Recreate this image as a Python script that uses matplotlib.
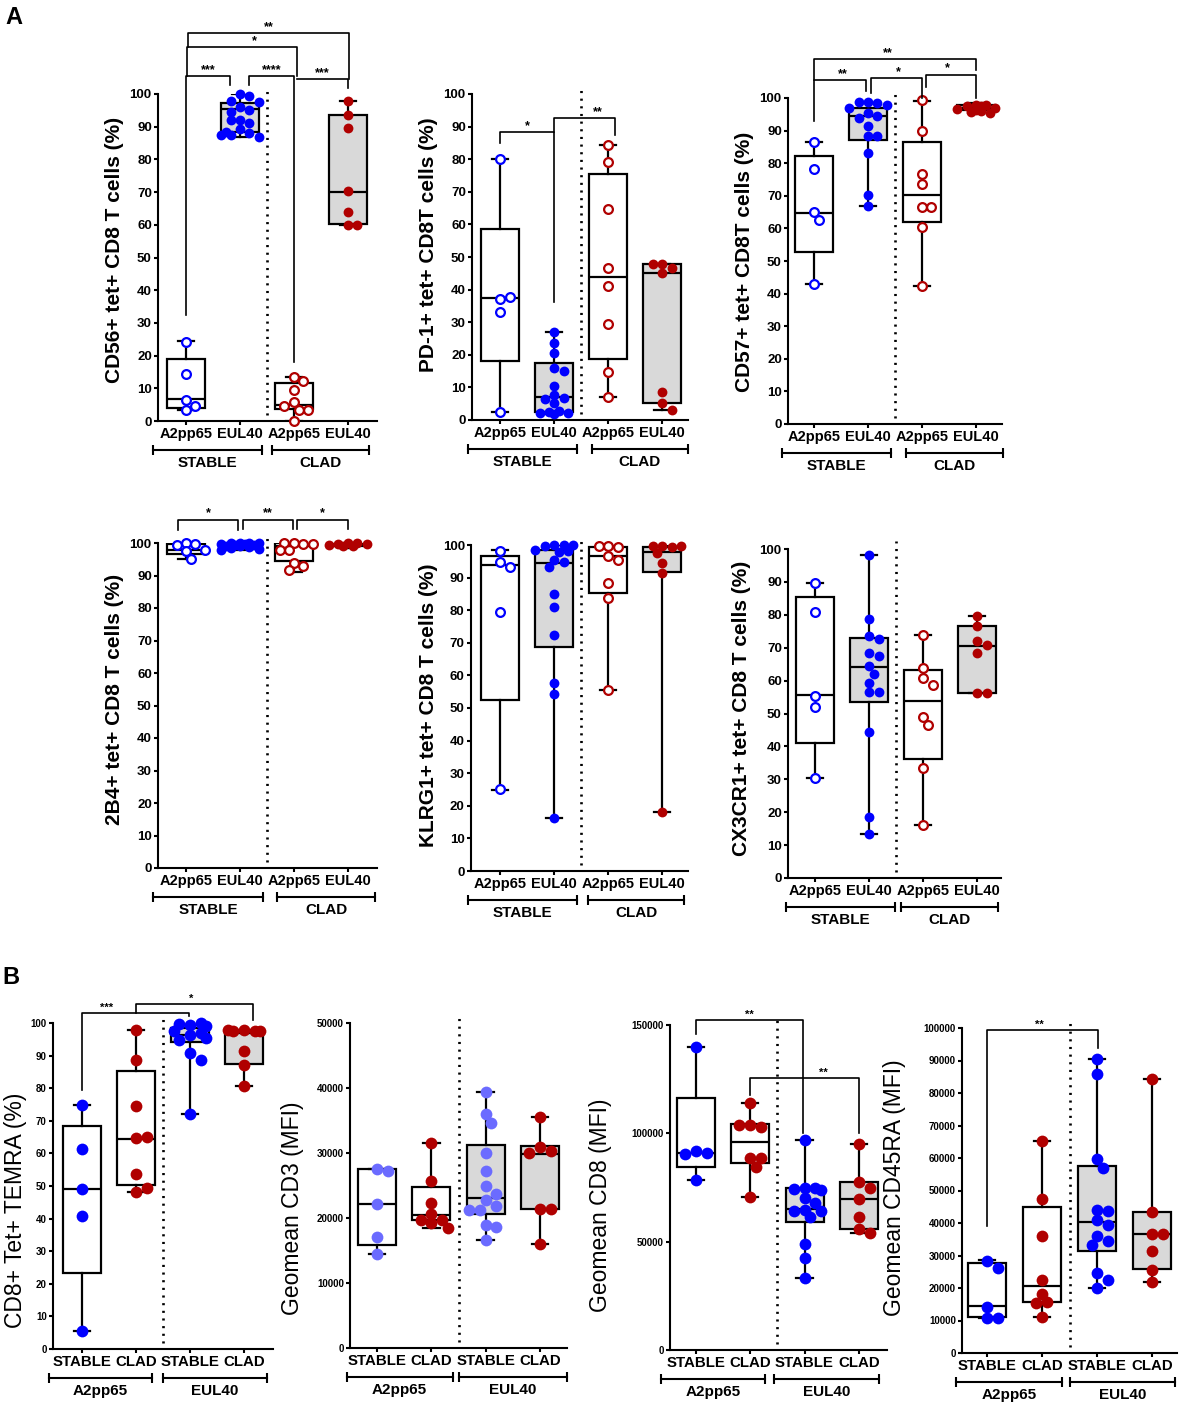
import matplotlib
matplotlib.use('Agg')
import matplotlib.pyplot as plt
import matplotlib.transforms as mtransforms
import numpy as np

plt.rcParams['font.family'] = ['Liberation Sans', 'DejaVu Sans']

W, H = 1181, 1402

BLUE = '#0000ff'
LBLUE = '#6b6bff'
RED = '#b00000'
GREY = '#d9d9d9'

cats_a = ['A2pp65', 'EUL40', 'A2pp65', 'EUL40']
groups_a = ['STABLE', 'CLAD']
cats_b = ['STABLE', 'CLAD', 'STABLE', 'CLAD']
groups_b = ['A2pp65', 'EUL40']

# box stats per group: whisker low, q1, median, q3, whisker high
cd56_box = [[3.3, 4.1, 6.8, 19.1, 24.5], [87, 88.5, 95.5, 97.3, 100],
            [0, 3.6, 5, 11.6, 13.5], [60, 60.3, 70, 93.5, 98]]
cd56_pts = [[24.3, 14.3, 6.5, 3.3, 4.6],
            [100, 99.5, 98, 97.6, 96, 95, 94.6, 92.2, 91.2, 92, 89.2, 88.2, 87.5, 87, 87.5, 88.5],
            [13.5, 12.1, 9.4, 5.8, 3.3, 4.5, 3.3, 0],
            [98, 93.6, 89.5, 70.3, 64, 60, 60]]

pd1_box = [[2.6, 18.2, 37.3, 58.6, 80], [1.7, 2.5, 7, 17.4, 27.1],
           [7.2, 18.6, 44, 75.5, 84.4], [3.1, 5.2, 45.2, 47.8, 47.8]]
pd1_pts = [[80, 37.1, 37.6, 33, 2.6],
           [27.1, 23.5, 20.7, 16.1, 15, 10.4, 7.7, 6.6, 6.3, 5.1, 2.8, 2.6, 2.2, 2.2, 1.7],
           [84.4, 79, 64.6, 46.5, 41.1, 29.4, 14.6, 7.2],
           [47.8, 45, 46.7, 47.8, 8.5, 5.1, 3.1]]

cd57_box = [[42.9, 52.7, 64.7, 82.3, 86.5], [66.9, 87.2, 94.6, 96.9, 98.5],
            [42.2, 62.1, 70.3, 86.4, 99], [95.5, 96.2, 97, 98, 98.5]]
cd57_pts = [[86.4, 78.3, 64.9, 62.6, 42.9],
            [98.7, 98.5, 98.9, 97.7, 97, 95.5, 94.4, 93.9, 91.5, 88.2, 88.2, 83.1, 70.3, 66.9],
            [99.5, 90, 76.7, 73.6, 66.7, 66.7, 60.3, 42.2],
            [98, 97.8, 97.5, 97, 96.5, 96, 95.8, 95.5, 96.3, 97.6]]

b24_box = [[95, 96.7, 98, 99.8, 100], [97.8, 98.6, 99.5, 100, 100],
           [91, 94.5, 99, 100, 100], [98.5, 99, 99.7, 100, 100]]
b24_pts = [[100, 99.8, 99.5, 97.9, 97.4, 95],
           [100, 100, 100, 100, 99.8, 99.6, 99.5, 99.4, 99.2, 99, 98.8, 98.5, 98.2, 97.8],
           [100, 99.6, 100, 99.8, 97.7, 97.7, 93.9, 92.8, 91.6],
           [100, 99.9, 99.8, 99.6, 99.4, 99.2, 99]]

klrg_box = [[25, 52.4, 93.8, 96.5, 98.5], [16.4, 68.8, 94.5, 98.6, 100],
            [55.5, 85.2, 96.6, 99.5, 100], [18.1, 91.8, 97.7, 99.4, 100]]
klrg_pts = [[98.3, 94.9, 93.3, 79.5, 25.1],
            [100, 100, 99.8, 100, 98.5, 98, 98.3, 95.5, 94.7, 93.1, 84.9, 80.9, 72.4, 57.7, 54.2, 16.4],
            [99.8, 99.5, 99.8, 96.5, 95.4, 88.2, 83.6, 55.5],
            [99.8, 99.5, 99.8, 99.8, 97.4, 94.6, 91.5, 18.1]]

cx3_box = [[30.3, 40.9, 55.6, 85.4, 89.6], [13.3, 53.6, 64.1, 72.9, 98.3],
           [16, 36.3, 53.9, 63.3, 73.9], [56.1, 56.1, 70.6, 76.6, 79.7]]
cx3_pts = [[89.6, 80.8, 55.3, 52.1, 30.3],
           [98.3, 78.7, 73.6, 72.6, 68.5, 67.5, 64.5, 62, 59.4, 56.6, 56.6, 44.5, 18.4, 13.3],
           [73.9, 63.8, 60.7, 58.7, 49, 46.5, 33.3, 16],
           [79.7, 76.5, 72.1, 70.9, 68.5, 56.1, 56.1]]

temra_box = [[5.4, 23.3, 49.2, 68.3, 75], [48.1, 50.2, 64.5, 85.2, 97.8],
             [72.1, 94.2, 96.2, 98.5, 99.5], [80.8, 87.4, 96.9, 97.2, 97.8]]
temra_pts = [[74.7, 61.3, 49.1, 40.9, 5.4],
             [97.8, 88.5, 74.6, 64.7, 64.9, 53.7, 48.1, 49.4],
             [99.5, 100, 99.6, 99, 97.4, 96.4, 96.8, 94.9, 95.3, 90.8, 88.8, 72.1],
             [97.8, 97.4, 97.4, 97.4, 97.8, 91.3, 87.2, 80.8]]

cd3_box = [[14440, 15800, 22200, 27550, 27600], [18520, 19640, 20500, 24740, 31600],
           [16680, 20660, 23100, 31220, 39440], [16070, 21430, 29850, 31120, 35600]]
cd3_pts = [[27550, 27300, 22100, 17100, 14440],
           [31600, 25760, 22350, 20660, 19640, 19640, 19230, 18520],
           [39440, 35970, 34600, 29950, 27300, 24850, 23720, 22700, 21790, 21280, 21280, 18880, 18620, 16680],
           [35600, 30970, 30260, 29950, 21430, 21430, 16070]]

cd8_box = [[78500, 84600, 90800, 116100, 140000], [70800, 86150, 96150, 104300, 113800],
           [33100, 58900, 64900, 74600, 97000], [53800, 55700, 69700, 77700, 95000]]
cd8_pts = [[140000, 91800, 91100, 90500, 78500],
           [113800, 103800, 103000, 103800, 88500, 88500, 84600, 70800],
           [97000, 75000, 75000, 74200, 73800, 70000, 67700, 64600, 64300, 64300, 61500, 48900, 42300, 33100],
           [95000, 77700, 74600, 69700, 61500, 55700, 53800]]

cd45_box = [[10770, 11080, 14560, 27700, 28700], [11080, 15700, 20700, 44800, 65100],
            [20000, 31300, 40200, 57600, 90500], [21700, 25900, 36700, 43400, 84300]]
cd45_pts = [[28400, 26150, 14150, 10770, 10770],
            [65100, 47500, 36100, 22360, 18260, 15600, 15400, 11080],
            [90500, 86000, 59800, 56900, 44100, 43600, 40800, 39500, 36100, 34400, 33300, 24600, 22400, 20000],
            [84300, 43400, 36700, 36700, 31300, 25600, 21700]]

fig = plt.figure(figsize=(W / 100, H / 100), dpi=100)


def swarm(vals, px_per_unit, d, px_per_cat=54.0, maxw=19.0):
    # compact beeswarm: push overlapping points sideways, but never wider than maxw
    placed = []
    offs = []
    cands = [0.0]
    step = d * 0.45
    i = 1
    while i * step <= maxw:
        cands += [i * step, -i * step]
        i += 1
    mind = 0.8 * d
    for v in vals:
        y = v * px_per_unit
        best, best_gap = 0.0, -1
        for c in cands:
            gap = min([np.hypot(c - px, y - py) for px, py in placed] or [1e9])
            if gap >= mind:
                best = c
                break
            if gap > best_gap:
                best, best_gap = c, gap
        placed.append((best, y))
        offs.append(best / px_per_cat)
    return np.array(offs)


def panel(px, xlim, ylim, yticks, box, pts, colors, hollow, fills, cats, groups, spans,
          ylabel, label_xy, a_style=True, ytick_labels=None):
    left, right, y0, ytop = px
    ax = fig.add_axes([left / W, (H - y0) / H, (right - left) / W, (y0 - ytop) / H])
    ax.set_xlim(xlim)
    ax.set_ylim(ylim)
    stats = [dict(whislo=b[0], q1=b[1], med=b[2], q3=b[3], whishi=b[4]) for b in box]
    lw = 1.6
    art = ax.bxp(stats, positions=range(4), widths=0.7, patch_artist=True, showfliers=False,
                 capwidths=0.3,
                 boxprops=dict(edgecolor='k', linewidth=lw),
                 whiskerprops=dict(color='k', linewidth=lw),
                 capprops=dict(color='k', linewidth=lw),
                 medianprops=dict(color='k', linewidth=lw))
    for patch, fc in zip(art['boxes'], fills):
        patch.set_facecolor(fc)
    ppu = (y0 - ytop) / (ylim[1] - ylim[0])
    d = 10.5 if a_style else 12
    s = 50 if a_style else 72
    for i, vals in enumerate(pts):
        x = i + swarm(vals, ppu, d)
        if hollow[i]:
            ax.scatter(x, vals, s=s * 0.8, facecolors='white', edgecolors=colors[i],
                       linewidths=1.6, zorder=3, clip_on=False)
        else:
            ax.scatter(x, vals, s=s, color=colors[i], linewidths=0, zorder=3, clip_on=False)

    # dotted separator
    ax.plot([1.5, 1.5], [0.018 * ylim[1], 1.025 * ylim[1]], color='k', lw=1.9,
            ls=(0, (0.8, 2.1)), clip_on=False, zorder=1)

    for sp in ['top', 'right']:
        ax.spines[sp].set_visible(False)
    for sp in ['left', 'bottom']:
        ax.spines[sp].set_linewidth(1.5)
    ax.set_xticks(range(4))
    ax.set_xticklabels(cats, fontsize=10.5 if a_style else 10.8, fontweight='bold')
    ax.set_yticks(yticks)
    if ytick_labels is None:
        ytick_labels = [str(t) for t in yticks]
    ax.set_yticklabels(ytick_labels, fontsize=9.5 if a_style else 7, fontweight='bold')
    ax.tick_params(axis='both', length=3, width=1.5, pad=1.5)
    ax.tick_params(axis='x', pad=1)

    # group bars under the category labels
    bar_tr = mtransforms.offset_copy(ax.get_xaxis_transform(), fig=fig, y=-29, units='dots')
    txt_tr = mtransforms.offset_copy(ax.get_xaxis_transform(), fig=fig, y=-42, units='dots')
    for (x1, x2), g in zip(spans, groups):
        ax.plot([x1, x2], [0, 0], transform=bar_tr, color='k', lw=1.5, marker='|', ms=7,
                mew=1.5, clip_on=False)
        ax.text((x1 + x2) / 2, 0, g, transform=txt_tr, ha='center', va='center',
                fontsize=11, fontweight='bold')

    if a_style:
        fig.text(label_xy[0] / W, 1 - label_xy[1] / H, ylabel, rotation=90, ha='center',
                 va='center', fontsize=15, fontweight='bold')
    else:
        fig.text(label_xy[0] / W, 1 - label_xy[1] / H, ylabel, rotation=90, ha='center',
                 va='center', fontsize=16.5)
    return ax


def bracket(ax, x1, x2, y, e1, e2, label, fs=9, tx=None):
    ax.plot([x1, x1, x2, x2], [e1, y, y, e2], color='k', lw=1.2, clip_on=False, zorder=4)
    if tx is None:
        tx = (x1 + x2) / 2
    ax.annotate(label, (tx, y), xytext=(0, 0), textcoords='offset points',
                ha='center', va='bottom', fontsize=fs, fontweight='bold',
                annotation_clip=False)


cols_a = [BLUE, BLUE, RED, RED]
hol_a = [True, False, True, False]
fill_4 = ['white', GREY, 'white', GREY]
fill_b = ['white', 'white', GREY, GREY]
cols_b = [BLUE, RED, BLUE, RED]
filled = [False] * 4
pct = list(range(0, 101, 10))

ax1 = panel((158, 377, 421, 94), (-0.52, 3.54), (0, 100), pct, cd56_box, cd56_pts, cols_a,
            hol_a, fill_4, cats_a, groups_a, [(-0.61, 1.41), (1.59, 3.39)],
            'CD56+ tet+ CD8 T cells (%)', (115, 250))
bracket(ax1, 0, 0.81, 105.5, 32.4, 102.8, '***')
bracket(ax1, 1.17, 2.0, 105.5, 102.8, 18, '****')
bracket(ax1, 2.06, 3.0, 104.6, 104.6, 101.8, '***')
bracket(ax1, 0.02, 2.06, 114.4, 105.5, 105.5, '*', tx=1.26)
bracket(ax1, 0.04, 3.02, 118.7, 114.4, 104.6, '**')

ax2 = panel((472, 688, 420, 94), (-0.52, 3.48), (0, 100), pct, pd1_box, pd1_pts, cols_a,
            hol_a, fill_4, cats_a, groups_a, [(-0.59, 1.43), (1.7, 3.48)],
            'PD-1+ tet+ CD8T cells (%)', (428, 245))
bracket(ax2, 0, 1.0, 88.4, 84.9, 36.3, '*')
bracket(ax2, 1.0, 2.13, 92.5, 88.4, 87.4, '**', tx=1.81)

ax3 = panel((788, 1002, 424, 98), (-0.48, 3.48), (0, 100), pct, cd57_box, cd57_pts, cols_a,
            hol_a, fill_4, cats_a, groups_a, [(-0.59, 1.43), (1.7, 3.5)],
            'CD57+ tet+ CD8T cells (%)', (745, 262))
bracket(ax3, 0, 3.0, 112, 105.4, 108.7, '**', tx=1.37)
bracket(ax3, 0, 0.97, 105.4, 92.8, 102, '**', tx=0.54)
bracket(ax3, 1.06, 2.0, 106.1, 101.5, 100, '*', tx=1.57)
bracket(ax3, 2.07, 3.0, 107.2, 103.5, 100, '*', tx=2.46)

ax4 = panel((158, 377, 868, 543), (-0.52, 3.54), (0, 100), pct, b24_box, b24_pts, cols_a,
            hol_a, fill_4, cats_a, groups_a, [(-0.61, 1.43), (1.69, 3.5)],
            '2B4+ tet+ CD8 T cells (%)', (115, 699))
bracket(ax4, -0.14, 0.97, 107.2, 103.9, 103.9, '*')
bracket(ax4, 1.06, 1.98, 107.2, 104.4, 104.4, '**')
bracket(ax4, 2.05, 3.0, 107.2, 104.4, 104.4, '*')

ax5 = panel((471, 688, 871, 545), (-0.54, 3.48), (0, 100), pct, klrg_box, klrg_pts, cols_a,
            hol_a, fill_4, cats_a, groups_a, [(-0.59, 1.43), (1.63, 3.41)],
            'KLRG1+ tet+ CD8 T cells (%)', (428, 705))

ax6 = panel((788, 1001, 878, 549), (-0.5, 3.44), (0, 100), pct, cx3_box, cx3_pts, cols_a,
            hol_a, fill_4, cats_a, groups_a, [(-0.54, 1.48), (1.59, 3.39)],
            'CX3CR1+ tet+ CD8 T cells (%)', (742, 708))

bx1 = panel((53, 273, 1349, 1023), (-0.53, 3.54), (0, 100), pct, temra_box, temra_pts, cols_b,
            filled, fill_b, cats_b, groups_b, [(-0.61, 1.31), (1.5, 3.43)],
            'CD8+ Tet+ TEMRA (%)', (16, 1210), a_style=False)
bracket(bx1, 0, 1.99, 103.1, 79.6, 102, '***', fs=8, tx=0.46)
bracket(bx1, 1.0, 3.17, 105.8, 103.1, 101, '*', fs=8, tx=2.03)

bx2 = panel((350, 567, 1348, 1023), (-0.5, 3.5), (0, 50000), list(range(0, 50001, 10000)),
            cd3_box, cd3_pts, [LBLUE, RED, LBLUE, RED], filled, fill_b, cats_b, groups_b,
            [(-0.56, 1.39), (1.5, 3.5)], 'Geomean CD3 (MFI)', (292, 1208), a_style=False)

bx3 = panel((670, 887, 1350, 1025), (-0.48, 3.52), (0, 150000), [0, 50000, 100000, 150000],
            cd8_box, cd8_pts, cols_b, filled, fill_b, cats_b, groups_b,
            [(-0.65, 1.28), (1.44, 3.37)], 'Geomean CD8 (MFI)', (600, 1205), a_style=False)
bracket(bx3, 0, 1.98, 152300, 146000, 100000, '**', fs=8)
bracket(bx3, 1.0, 3.0, 125400, 117700, 100000, '**', fs=8, tx=2.34)

bx4 = panel((962, 1177, 1353, 1028), (-0.45, 3.45), (0, 100000), list(range(0, 100001, 10000)),
            cd45_box, cd45_pts, cols_b, filled, fill_b, cats_b, groups_b,
            [(-0.55, 1.36), (1.51, 3.42)], 'Geomean CD45RA (MFI)', (895, 1188), a_style=False)
bracket(bx4, 0, 2.01, 99300, 39000, 93800, '**', fs=8, tx=0.95)

fig.text(14 / W, 1 - 17 / H, 'A', ha='center', va='center', fontsize=17, fontweight='bold')
fig.text(11 / W, 1 - 977 / H, 'B', ha='center', va='center', fontsize=17, fontweight='bold')

fig.savefig('out.png', dpi=100)
